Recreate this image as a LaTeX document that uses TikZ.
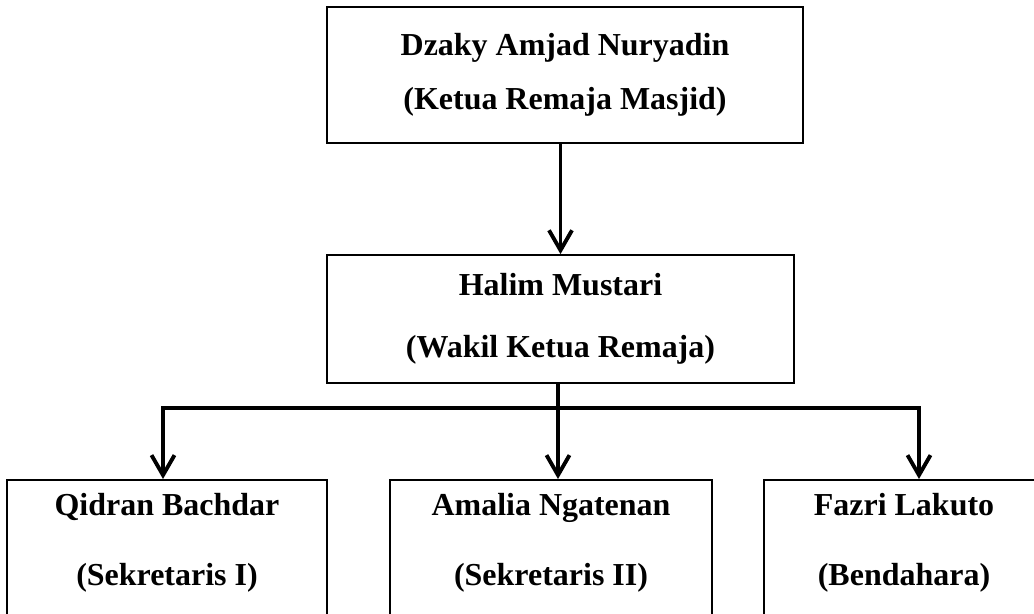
\documentclass[tikz,border=0pt]{standalone}
\usepackage{fontspec}
\setmainfont{Liberation Serif}
\usepackage{tikz}
\usetikzlibrary{arrows.meta,positioning}

\begin{document}
\begin{tikzpicture}[x=0.02cm,y=-0.02cm,
      person/.style={draw,line width=1pt,align=center,inner sep=0pt,
                     font=\bfseries\fontsize{18.2}{31}\selectfont},
      member/.style={person,anchor=north,inner ysep=0.26cm,text depth=3cm},
      arr/.style={-{Straight Barb[length=0.4cm,width=0.46cm]},line width=2.2pt},
      link/.style={line width=2.2pt},
  ]
  \useasboundingbox (0,0) rectangle (1034,613);

  %--- Ketua dan wakil ---
  \node[person,minimum width=9.52cm,minimum height=2.72cm] (ketua) at (565,75)
    {Dzaky Amjad Nuryadin\\(Ketua Remaja Masjid)};
  \node[person,minimum width=9.34cm,minimum height=2.56cm] (wakil) at (560.5,319)
    {Halim Mustari\\[0.14cm](Wakil Ketua Remaja)};

  \draw[arr] (ketua.south -| wakil.north) -- (wakil.north);

  %--- Sekretaris dan bendahara ---
  \node[member,minimum width=6.4cm] (sek1) at (167,479)
    {Qidran Bachdar\\[0.32cm](Sekretaris I)};
  \node[member,minimum width=6.44cm] (sek2) at (551,479)
    {Amalia Ngatenan\\[0.32cm](Sekretaris II)};
  \node[member,minimum width=5.6cm] (bend) at (904,479)
    {Fazri Lakuto\\[0.32cm](Bendahara)};

  % Garis cabang
  \coordinate (bus) at (558,408);
  \draw[link] (wakil.south -| bus) -- (bus);
  \draw[arr] (bus) -| ([xshift=-0.08cm]sek1.north);
  \draw[arr] (bus) -- (bus |- sek2.north);
  \draw[arr] (bus) -| ([xshift=0.3cm]bend.north);
\end{tikzpicture}
\end{document}
